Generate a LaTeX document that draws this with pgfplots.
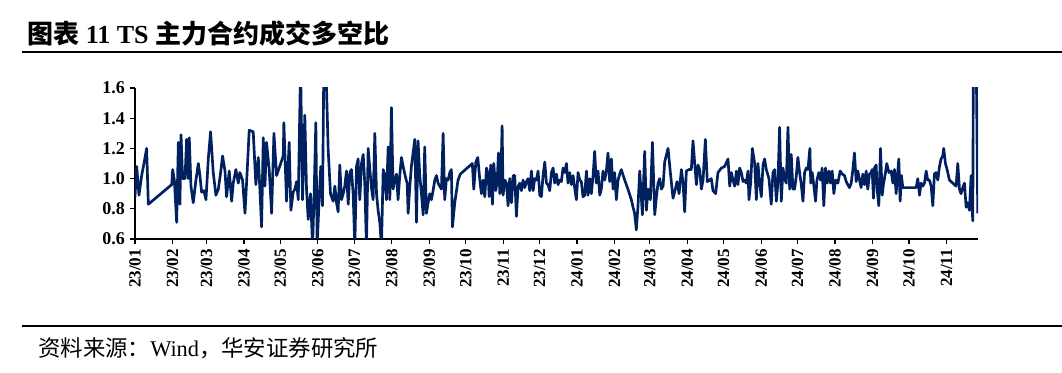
\documentclass[border=0pt]{standalone}
\usepackage{fontspec}
\setmainfont{Liberation Serif}
\newfontfamily\cjk{Noto Sans CJK SC}
\usepackage{pgfplots}
\usepackage{pgfplotstable}
\pgfplotsset{compat=1.18}
\definecolor{navy}{RGB}{0,32,96}
\pgfplotstableread{
x y
0 0.88
1.4 1.08
3.3 0.89
5.5 1.02
7.4 1.10
9.6 1.20
11.0 0.83
30.3 0.96
31.1 1.06
32.5 0.99
34.4 0.71
35.8 1.24
37.1 0.83
38.0 1.29
39.3 1.00
41.3 1.00
42.6 1.26
44.0 1.00
44.8 1.27
46.2 0.95
48.1 0.84
50.3 0.99
52.3 1.10
53.6 1.02
55.0 0.91
56.9 0.92
58.6 0.86
60.5 1.13
62.4 1.31
64.6 1.04
66.8 0.89
68.8 0.93
70.7 1.04
72.3 1.15
74.3 1.05
75.6 0.88
77.8 1.05
79.8 0.85
81.1 0.97
83.3 1.06
85.3 0.97
86.6 1.04
88.8 0.99
90.8 0.77
92.1 0.97
94.3 1.32
97.6 1.31
99.8 0.96
101.8 1.14
103.1 0.93
104.5 0.68
105.9 1.27
107.3 0.95
108.6 1.24
110.8 1.06
112.8 0.77
114.7 1.30
116.9 1.02
122.4 1.15
122.9 1.37
125.1 0.85
127.3 1.24
128.7 0.79
130.6 0.91
132.0 0.93
133.4 0.98
134.8 0.86
136.7 1.75
138.3 0.86
140.2 1.42
141.6 0.93
143.0 0.73
144.9 0.90
146.6 0.55
147.9 0.90
149.3 1.37
150.4 0.55
152.1 0.88
153.4 1.08
154.8 0.82
155.9 1.75
157.6 1.75
159.5 1.19
161.4 0.90
163.6 0.85
165.0 0.95
166.4 0.84
167.7 0.78
169.1 1.09
170.5 0.86
171.9 0.90
173.2 0.95
174.6 1.05
176.0 0.83
177.4 1.04
178.7 1.06
180.1 0.90
181.5 0.55
182.9 1.08
184.2 1.13
185.6 0.86
187.0 1.10
188.4 1.16
189.7 0.97
191.1 0.55
192.5 1.20
193.9 1.06
195.2 0.94
196.6 0.86
198.0 1.30
199.4 0.90
200.7 0.79
202.1 0.71
203.5 0.55
204.9 1.06
206.2 1.02
207.6 0.86
209.0 1.21
210.4 0.86
211.7 1.47
213.1 0.93
214.5 0.99
215.9 1.03
217.2 0.86
218.6 1.02
220.0 1.14
221.4 1.08
223.6 1.00
224.7 0.97
225.5 0.77
226.9 0.95
228.2 1.08
229.6 1.17
231.0 1.26
232.4 0.71
233.7 1.25
235.1 1.02
236.5 0.90
237.9 0.76
239.2 1.21
240.6 0.77
242.0 0.84
243.4 0.90
244.7 0.86
246.1 0.92
247.5 0.99
248.9 1.02
250.2 0.97
251.6 0.95
253.0 0.93
254.4 1.30
255.7 0.86
257.1 1.00
258.5 0.99
259.9 1.04
261.2 1.06
262.1 0.68
264.0 0.84
266.7 0.99
268.6 1.03
278.5 1.10
279.7 0.93
281.4 1.11
283.0 1.14
284.7 0.99
286.0 0.90
287.4 0.99
288.8 0.88
290.2 1.07
291.5 1.03
292.4 0.88
293.7 1.09
295.1 0.83
296.2 1.10
297.9 0.92
299.0 0.98
300.1 1.17
301.2 0.90
302.0 0.98
303.1 1.35
303.9 0.89
305.3 0.99
306.7 0.97
308.0 0.82
309.4 1.00
310.8 0.84
312.2 1.02
313.5 1.02
314.9 0.75
316.3 0.95
317.7 0.97
319.0 0.92
320.4 0.99
321.8 0.94
323.2 0.98
324.5 1.00
325.9 0.92
327.3 1.05
328.7 0.92
330.0 1.00
331.4 0.99
332.8 1.05
334.2 0.89
335.5 0.88
336.9 1.02
338.3 1.11
339.7 0.97
341.0 0.96
342.4 0.92
343.8 1.04
345.2 1.07
346.5 0.97
347.9 1.03
349.3 0.96
350.7 0.99
352.0 0.98
353.4 1.07
354.8 1.04
356.2 1.10
357.5 0.97
358.9 1.04
360.3 0.96
361.7 1.02
363.0 0.94
364.4 0.86
365.8 1.04
367.2 0.99
368.5 0.98
369.9 0.88
371.3 0.89
372.7 1.05
374.0 0.89
375.4 1.00
376.8 0.90
378.2 1.02
379.5 1.18
380.9 0.97
382.3 1.05
383.7 0.89
385.0 0.93
386.4 1.05
387.8 0.99
389.2 1.05
390.5 1.17
391.9 0.98
393.3 1.13
394.7 0.93
396.0 1.04
397.4 0.86
398.8 0.99
400.2 1.03
401.5 1.06
404.3 0.99
407.0 0.93
409.8 0.86
411.2 0.81
412.5 0.77
413.9 0.66
415.3 0.82
416.7 1.05
418.9 0.76
420.8 1.18
422.2 0.79
423.6 0.93
425.5 0.86
427.2 1.24
429.1 0.76
430.5 0.88
431.8 0.97
433.2 1.00
434.6 0.93
436.0 0.95
437.3 1.11
440.1 1.20
442.0 1.04
444.2 0.87
446.1 0.93
447.5 0.98
449.2 0.90
451.1 1.06
452.5 0.97
453.8 0.78
455.2 1.05
457.4 1.06
459.3 1.06
460.7 1.25
462.1 1.10
463.5 0.96
464.8 1.09
466.2 1.06
467.6 0.93
469.0 0.99
470.9 1.26
472.5 0.98
474.5 0.99
475.8 1.00
477.2 0.92
479.4 0.90
481.3 1.04
484.1 1.07
486.8 1.08
489.6 1.13
491.0 0.95
492.3 1.04
493.7 0.99
495.1 0.95
496.5 1.05
497.8 0.96
499.2 1.07
500.6 1.04
502.0 0.98
503.3 0.99
504.7 0.97
506.1 1.05
506.9 0.86
508.3 0.97
509.7 1.20
511.6 1.10
513.0 0.86
514.3 1.10
515.7 0.97
517.1 0.88
518.5 1.09
519.8 1.13
521.2 1.06
523.4 1.00
525.3 0.83
526.7 1.04
528.1 1.06
529.5 0.85
530.8 0.97
532.2 1.34
533.6 0.85
535.0 1.07
536.3 1.00
537.7 0.97
539.1 1.34
540.5 0.93
541.8 1.16
543.2 0.93
544.6 0.93
546.0 1.02
547.3 1.14
548.7 1.04
550.1 0.96
551.5 0.85
552.8 1.04
554.2 1.07
555.6 1.06
557.2 1.20
557.9 0.97
559.1 1.04
560.2 0.97
561.9 0.85
563.0 0.99
564.6 1.04
566.0 0.99
567.3 1.07
568.7 0.82
570.1 1.07
571.5 0.97
572.9 1.05
574.2 0.97
575.6 1.05
577.0 0.90
578.4 0.99
580.3 0.97
582.2 1.05
583.9 1.03
585.8 1.02
587.2 0.98
588.5 0.96
589.9 0.94
591.3 0.97
592.7 1.06
594.0 1.17
595.4 0.98
596.8 1.05
598.2 0.99
599.5 0.94
600.9 1.03
602.3 0.96
603.7 1.05
605.0 0.93
606.4 1.03
607.8 1.04
608.6 1.06
609.7 0.87
610.5 1.07
611.9 1.09
612.7 0.93
614.1 0.82
615.5 1.20
616.9 0.89
617.9 0.96
619.6 1.04
620.7 1.10
622.4 1.04
624.3 1.05
625.7 0.97
627.0 1.06
628.4 0.90
629.5 1.02
630.6 1.13
631.7 0.85
632.8 1.02
633.9 0.94
636.7 0.94
644.9 0.94
646.3 1.00
647.7 0.89
649.0 0.97
650.4 0.95
651.8 0.97
653.2 1.05
654.5 0.99
655.9 0.99
657.3 0.95
658.7 0.82
660.0 1.03
661.4 1.04
662.8 0.99
664.2 1.08
665.5 1.13
666.9 1.15
667.7 1.20
669.1 1.10
670.5 1.06
672.4 0.99
675.2 0.97
676.5 0.96
677.9 0.95
679.3 1.10
680.7 0.93
682.0 0.90
683.4 0.94
684.8 0.97
686.2 0.81
687.5 0.84
688.9 0.79
690.3 1.02
691.1 0.81
691.7 0.72
692.2 1.90
694.4 1.90
695.8 0.77
}\tsdata
\begin{document}
\begin{tikzpicture}[x=0.75pt,y=0.75pt]
\path[use as bounding box] (0,0) rectangle (1062,373);
% title
\node[anchor=base west,inner sep=0pt] at (27,329.5)
  {\fontsize{19.5}{22}\selectfont\bfseries{\cjk 图表} 11 TS {\cjk 主力合约成交多空比}};
\draw[line width=1.5pt] (22,321) -- (1062,321);
\draw[line width=1.5pt] (22,47) -- (1062,47);
\node[anchor=base west,inner sep=0pt] at (38,16.5)
  {\fontsize{16.8}{20}\selectfont{\cjk 资料来源：}Wind{\cjk ，华安证券研究所}};
\begin{axis}[
  at={(101.25pt,100.5pt)}, anchor=south west,
  scale only axis, width=632.25pt, height=113.25pt,
  xmin=0, xmax=696, ymin=0.6, ymax=1.6,
  axis x line=bottom, axis y line=left,
  axis line style={line width=0.9pt,-},
  tick align=outside, major tick length=4pt,
  tick style={line width=0.9pt,black},
  xtick={0,31,59,90,120,151,181,212,243,273,304,334,365,396,425,456,486,517,547,578,609,639,670},
  xticklabels={23/01,23/02,23/03,23/04,23/05,23/06,23/07,23/08,23/09,23/10,23/11,23/12,24/01,24/02,24/03,24/04,24/05,24/06,24/07,24/08,24/09,24/10,24/11},
  xticklabel style={rotate=90,anchor=east,font=\fontsize{12.8}{15}\selectfont\bfseries},
  ytick={0.6,0.8,1.0,1.2,1.4,1.6},
  yticklabel style={font=\fontsize{13.5}{16}\selectfont\bfseries,
    /pgf/number format/.cd,fixed,fixed zerofill,precision=1,assume math mode=true},
  clip=true,
]
\addplot[navy, line width=2pt, line join=round, no marks] table[x=x,y=y] {\tsdata};
\end{axis}
\end{tikzpicture}
\end{document}
